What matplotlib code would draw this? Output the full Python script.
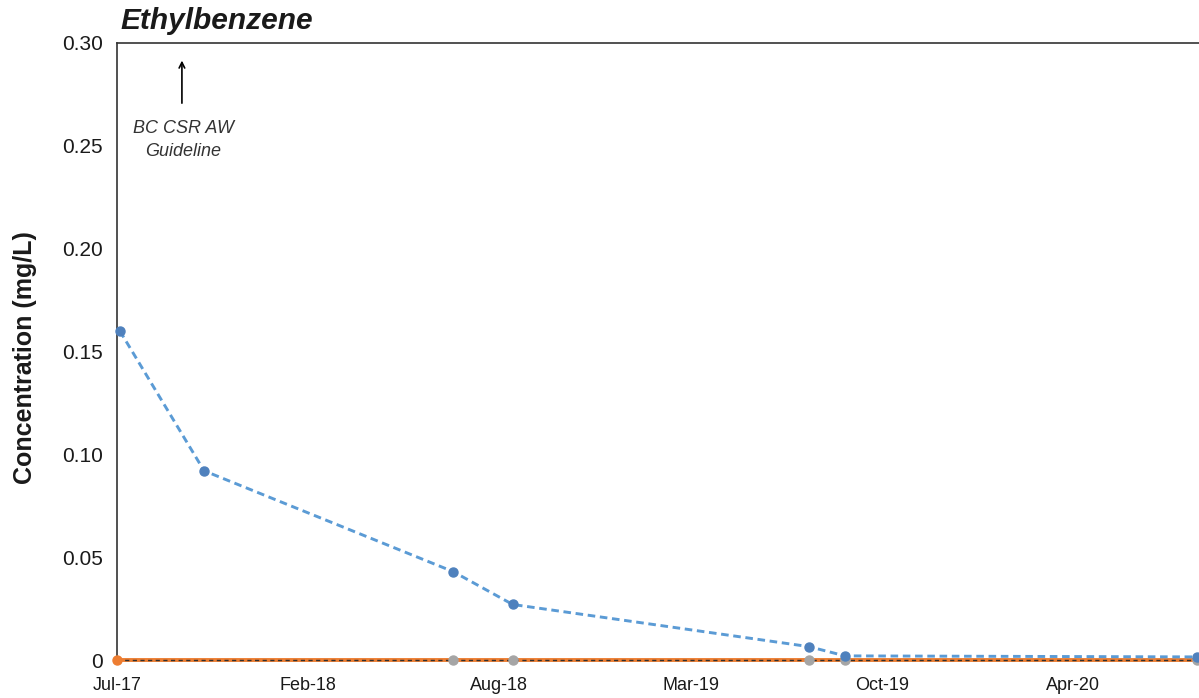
import matplotlib
matplotlib.use("Agg")
import matplotlib.pyplot as plt
import matplotlib.dates as mdates
import numpy as np
import datetime as dt

plt.rcParams['font.family'] = ['Liberation Sans', 'DejaVu Sans']

# Sample data (concentration in mg/L)
blue_dates = ["2017-07-18", "2017-10-15", "2018-07-05", "2018-09-06",
              "2019-07-16", "2019-08-23", "2020-08-29"]
blue_values = [0.160, 0.092, 0.043, 0.027, 0.0065, 0.002, 0.0015]

grey_dates = ["2017-07-15", "2018-07-05", "2018-09-06", "2019-07-16",
              "2019-08-23", "2020-08-29"]
grey_values = [0, 0, 0, 0, 0, 0]

orange_dates = ["2017-07-15", "2020-09-05"]
orange_values = [0, 0]

y_ticks = [0, 0.05, 0.10, 0.15, 0.20, 0.25, 0.30]
y_tick_labels = ["0", "0.05", "0.10", "0.15", "0.20", "0.25", "0.30"]

axis_start = dt.date(2017, 7, 15)
tick_step_days = 202
n_ticks = 6

to_dates = lambda s: [np.datetime64(d) for d in s]

fig = plt.figure(figsize=(11.99, 6.98), dpi=100)
ax = fig.add_axes([117 / 1199, 1 - 660 / 698, 1 - 117 / 1199, (660 - 43) / 698])

ax.plot(to_dates(orange_dates), orange_values, color='#ed7d31', lw=2.8,
        zorder=3, clip_on=False)
ax.plot(to_dates(grey_dates), grey_values, color='#303030', lw=1.0,
        ls=(0, (3, 2.5)), marker='o', ms=6.5, mfc='#a5a5a5', mec='#a5a5a5',
        markevery=list(range(1, len(grey_dates))), zorder=4, clip_on=False)
ax.plot(to_dates(orange_dates[:1]), orange_values[:1], ls='none', marker='o',
        ms=6.5, color='#ed7d31', zorder=6, clip_on=False)
ax.plot(to_dates(blue_dates), blue_values, color='#5b9bd5', lw=2.1,
        ls=(0, (2.6, 1.6)), marker='o', ms=6.5, mfc='#4f81bd', mec='#4f81bd',
        zorder=5, clip_on=False)

tick_dates = [axis_start + dt.timedelta(days=tick_step_days * k) for k in range(n_ticks)]
days_per_px = tick_step_days / 191.2
x_end = axis_start + dt.timedelta(days=(1199 - 117) * days_per_px)
ax.set_xlim(axis_start, x_end)
ax.set_xticks(tick_dates)
ax.xaxis.set_major_formatter(mdates.DateFormatter('%b-%y'))
ax.set_ylim(0, 0.30)
ax.set_yticks(y_ticks)
ax.set_yticklabels(y_tick_labels)

ax.tick_params(axis='both', length=0)
ax.tick_params(axis='y', labelsize=15, pad=10, labelcolor='#1a1a1a')
ax.tick_params(axis='x', labelsize=13, pad=12, labelcolor='#1a1a1a')

for side in ('right', 'bottom'):
    ax.spines[side].set_visible(False)
for side in ('left', 'top'):
    ax.spines[side].set_color('#333333')
    ax.spines[side].set_linewidth(1.2)

ax.annotate('', xy=(0.060, 0.976), xytext=(0.060, 0.898), xycoords='axes fraction',
            arrowprops=dict(arrowstyle='->', color='black', lw=1.2))
ax.text(0.061, 0.843, 'BC CSR AW\nGuideline', transform=ax.transAxes,
        ha='center', va='center', fontsize=13, style='italic', color='#333333',
        linespacing=1.45)

fig.text(120 / 1199, 1 - 21 / 698, 'Ethylbenzene', fontsize=21.5, fontweight='bold',
         style='italic', ha='left', va='center', color='#1a1a1a')
fig.text(25 / 1199, 1 - 358 / 698, 'Concentration (mg/L)', rotation=90, fontsize=18,
         fontweight='bold', ha='center', va='center', color='#1a1a1a')

fig.savefig('out.png', dpi=100, facecolor='white')
